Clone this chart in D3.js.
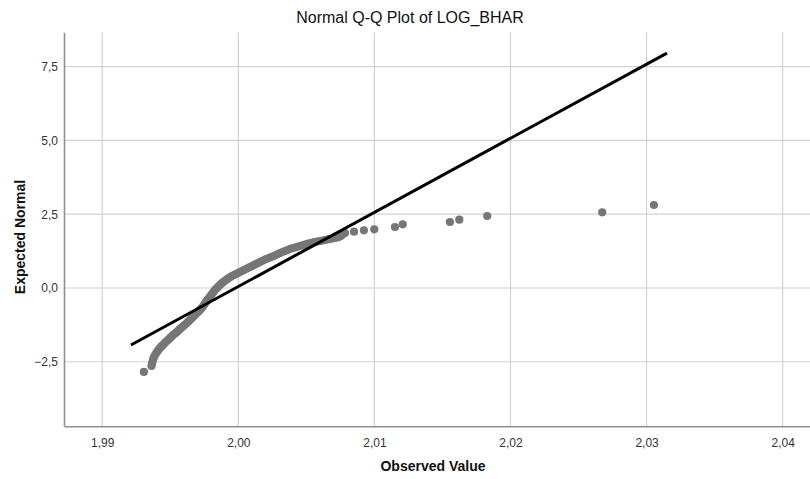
<!DOCTYPE html>
<html>
<head>
<meta charset="utf-8">
<script src="https://cdn.jsdelivr.net/npm/d3@7"></script>
<style>
  html, body { margin: 0; padding: 0; background: #fff; }
  svg { display: block; font-family: "Liberation Sans", Arial, sans-serif; }
</style>
</head>
<body>
<svg id="chart" width="810" height="479"></svg>
<script>
// ---- data ----
const chartTitle = "Normal Q-Q Plot of LOG_BHAR";
const xAxisTitle = "Observed Value";
const yAxisTitle = "Expected Normal";

const observedValues = [
  1.99306, 1.99362, 1.99365, 1.99369, 1.99374, 1.99380, 1.99391, 1.99402, 1.99413, 1.99424,
  1.99435, 1.99446, 1.99460, 1.99475, 1.99487, 1.99498, 1.99509, 1.99520, 1.99535, 1.99549,
  1.99560, 1.99571, 1.99582, 1.99593, 1.99607, 1.99622, 1.99633, 1.99644, 1.99655, 1.99667,
  1.99681, 1.99696, 1.99707, 1.99718, 1.99729, 1.99740, 1.99751, 1.99762, 1.99773, 1.99784,
  1.99795, 1.99806, 1.99817, 1.99828, 1.99839, 1.99850, 1.99861, 1.99872, 1.99883, 1.99894,
  1.99909, 1.99924, 1.99938, 1.99953, 1.99968, 1.99983, 1.99997, 2.00012, 2.00027, 2.00041,
  2.00056, 2.00071, 2.00085, 2.00100, 2.00115, 2.00129, 2.00144, 2.00159, 2.00177, 2.00196,
  2.00214, 2.00232, 2.00250, 2.00269, 2.00287, 2.00306, 2.00324, 2.00343, 2.00361, 2.00379,
  2.00397, 2.00416, 2.00434, 2.00453, 2.00471, 2.00490, 2.00508, 2.00526, 2.00545, 2.00563,
  2.00581, 2.00600, 2.00618, 2.00637, 2.00655, 2.00673, 2.00691, 2.00710, 2.00732, 2.00754,
  2.00769, 2.00784, 2.00850, 2.00923, 2.00999, 2.01151, 2.01208, 2.01555, 2.01624, 2.01829,
  2.02674, 2.03054
];
const expectedNormal = [
  -2.846, -2.643, -2.575, -2.508, -2.420, -2.338, -2.250, -2.169, -2.100, -2.033,
  -1.980, -1.932, -1.860, -1.796, -1.745, -1.694, -1.643, -1.593, -1.540, -1.491,
  -1.440, -1.389, -1.347, -1.305, -1.245, -1.186, -1.135, -1.084, -1.033, -0.983,
  -0.915, -0.847, -0.796, -0.746, -0.686, -0.627, -0.550, -0.474, -0.406, -0.339,
  -0.271, -0.203, -0.135, -0.068, -0.017, 0.034, 0.085, 0.136, 0.178, 0.220,
  0.271, 0.322, 0.364, 0.407, 0.440, 0.474, 0.508, 0.542, 0.576, 0.610,
  0.644, 0.678, 0.712, 0.746, 0.780, 0.813, 0.847, 0.881, 0.923, 0.966,
  1.000, 1.034, 1.068, 1.101, 1.143, 1.186, 1.220, 1.254, 1.288, 1.322,
  1.347, 1.372, 1.398, 1.423, 1.449, 1.474, 1.500, 1.525, 1.542, 1.559,
  1.576, 1.593, 1.610, 1.627, 1.643, 1.660, 1.677, 1.694, 1.711, 1.762,
  1.830, 1.864, 1.908, 1.955, 1.989, 2.067, 2.159, 2.237, 2.314, 2.440,
  2.565, 2.813
];

const refLineX = [1.99211, 2.03150];
const refLineY = [-1.93, 7.96];

const xTicks = [1.99, 2.00, 2.01, 2.02, 2.03, 2.04];
const yTicks = [-2.5, 0.0, 2.5, 5.0, 7.5];

const xDomain = [1.98719, 2.04201];
const yDomain = [-4.687, 8.665];

// ---- layout ----
const plot = { left: 64, right: 810, top: 32.3, bottom: 426.3 };

const svg = d3.select("#chart");
const x = d3.scaleLinear().domain(xDomain).range([plot.left, plot.right]);
const y = d3.scaleLinear().domain(yDomain).range([plot.bottom, plot.top]);

const fmtX = v => d3.format(".2f")(v).replace(".", ",");
const fmtY = v => d3.format(".1f")(v).replace(".", ",");

// gridlines
const grid = svg.append("g");
grid.selectAll("line.gx").data(xTicks).join("line")
  .attr("x1", d => x(d)).attr("x2", d => x(d))
  .attr("y1", plot.top).attr("y2", plot.bottom)
  .attr("stroke", "#d2d2d2").attr("stroke-width", 1.2);
grid.selectAll("line.gy").data(yTicks).join("line")
  .attr("x1", plot.left).attr("x2", plot.right)
  .attr("y1", d => y(d)).attr("y2", d => y(d))
  .attr("stroke", "#d2d2d2").attr("stroke-width", 1.2);

// axes
const xAxis = d3.axisBottom(x).tickValues(xTicks).tickFormat(fmtX).tickSize(0).tickPadding(12);
const yAxis = d3.axisLeft(y).tickValues(yTicks).tickFormat(fmtY).tickSize(0).tickPadding(6);

const gx = svg.append("g").attr("transform", `translate(0,${plot.bottom})`).call(xAxis);
const gy = svg.append("g").attr("transform", `translate(${plot.left},0)`).call(yAxis);
[gx, gy].forEach(g => {
  g.select(".domain").attr("stroke", "#8f8f8f").attr("stroke-width", 1.6);
  g.selectAll("text").attr("font-size", 12).attr("fill", "#333")
    .attr("font-family", "'Liberation Sans', Arial, sans-serif");
});

// points
svg.append("g").selectAll("circle")
  .data(observedValues.map((v, i) => [v, expectedNormal[i]]))
  .join("circle")
  .attr("cx", d => x(d[0])).attr("cy", d => y(d[1]))
  .attr("r", 4.1).attr("fill", "#767676");

// reference line
svg.append("line")
  .attr("x1", x(refLineX[0])).attr("y1", y(refLineY[0]))
  .attr("x2", x(refLineX[1])).attr("y2", y(refLineY[1]))
  .attr("stroke", "#000").attr("stroke-width", 3);

// titles
svg.append("text").attr("x", 410).attr("y", 23).attr("text-anchor", "middle")
  .attr("font-size", 16).attr("fill", "#111").text(chartTitle);
svg.append("text").attr("x", 433).attr("y", 471).attr("text-anchor", "middle")
  .attr("font-size", 14).attr("font-weight", "bold").attr("fill", "#111").text(xAxisTitle);
svg.append("text").attr("transform", "translate(25,237) rotate(-90)").attr("text-anchor", "middle")
  .attr("font-size", 14).attr("font-weight", "bold").attr("fill", "#111").text(yAxisTitle);
</script>
</body>
</html>
